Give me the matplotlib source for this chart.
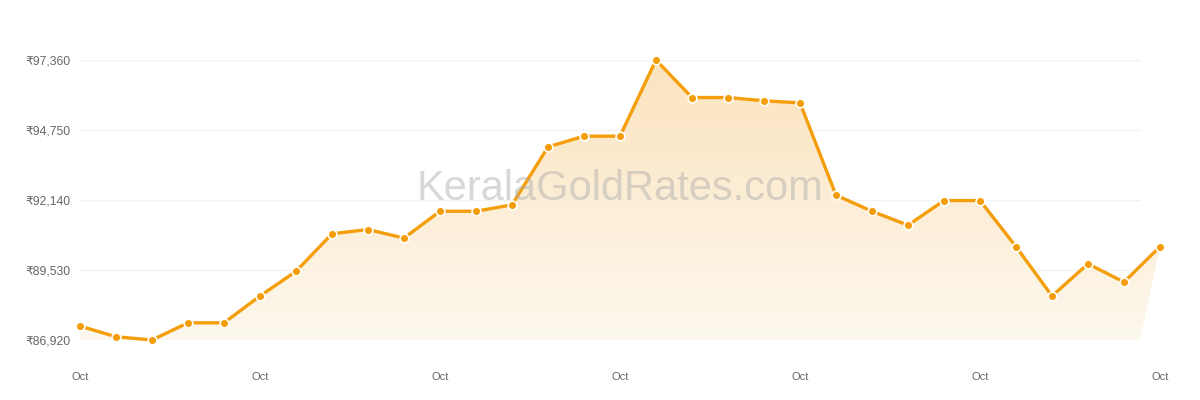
import numpy as np
import matplotlib.pyplot as plt
from matplotlib.patches import Polygon
from matplotlib.colors import LinearSegmentedColormap

# 22K gold, per 8 g, Kerala - October
days = list(range(31))
prices = [87440, 87040, 86920, 87560, 87560, 88560, 89480, 90880, 91040, 90720,
          91720, 91720, 91960, 94120, 94520, 94520, 97360, 95960, 95960, 95840,
          95760, 92320, 91720, 91200, 92120, 92120, 90400, 88560, 89760, 89080,
          90400]
yticks = [86920, 89530, 92140, 94750, 97360]
ytick_labels = ["₹86,920", "₹89,530", "₹92,140", "₹94,750", "₹97,360"]
xtick_pos = [0, 5, 10, 15, 20, 25, 30]
xtick_labels = ["Oct"] * 7

line_color = "#f59e0b"
fonts = ["Liberation Sans", "DejaVu Sans"]
plt.rcParams["font.family"] = fonts

fig = plt.figure(figsize=(12, 4), dpi=100)
ax = fig.add_axes([80 / 1200, 60 / 400, 1080 / 1200, 280 / 400])
ax.set_xlim(0, 30)
ax.set_ylim(yticks[0], yticks[-1])

# plotting area ends a bit before the last point
x_end = 30 - 20 / 36

for yv in yticks:
    ax.hlines(yv, 0, x_end, color="#f3f3f3", lw=1, zorder=1)

# gradient fill under the line
poly_xy = [(0, yticks[0])] + list(zip(days, prices)) + [(x_end, yticks[0])]
poly = Polygon(poly_xy, closed=True, facecolor="none", edgecolor="none")
ax.add_patch(poly)
cmap = LinearSegmentedColormap.from_list(
    "fade", [(0.992, 0.973, 0.933), (0.984, 0.890, 0.745)])
grad = np.linspace(0, 1, 256).reshape(-1, 1)
im = ax.imshow(grad, extent=[0, 30, yticks[0], yticks[-1]], origin="lower",
               aspect="auto", cmap=cmap, zorder=2)
im.set_clip_path(poly)

ax.plot(days, prices, color=line_color, lw=2.4, zorder=3, clip_on=False)
ax.scatter(days, prices, s=40, color=line_color, edgecolors="white",
           linewidths=1.2, zorder=4, clip_on=False)

ax.text(15, 92560, "KeralaGoldRates.com", fontsize=30, color="#aaaaaa",
        alpha=0.45, ha="center", va="center", zorder=5)

ax.set_yticks(yticks)
ax.set_yticklabels(ytick_labels)
ax.set_xticks(xtick_pos)
ax.set_xticklabels(xtick_labels)
ax.tick_params(axis="y", length=0, pad=7, labelsize=8.8, labelcolor="#666666")
ax.tick_params(axis="x", length=0, pad=23, labelsize=8, labelcolor="#666666")
for s in ax.spines.values():
    s.set_visible(False)

fig.savefig("out.png", dpi=100)
